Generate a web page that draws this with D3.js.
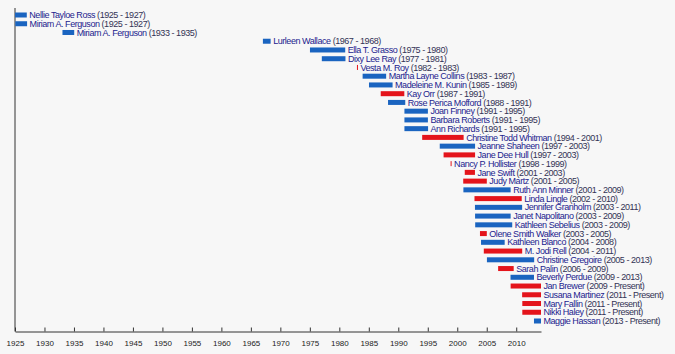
<!DOCTYPE html>
<html>
<head>
<meta charset="utf-8">
<script src="https://cdn.jsdelivr.net/npm/d3@7"></script>
<style>
  body { margin: 0; background: #f7f7f7; }
  svg { display: block; font-family: "Liberation Sans", Arial, sans-serif; }
</style>
</head>
<body>
<script>
var w = 675;
var h = 354;

// Governors, in chart order (top to bottom)
var names = ["Nellie Tayloe Ross", "Miriam A. Ferguson", "Miriam A. Ferguson", "Lurleen Wallace",
    "Ella T. Grasso", "Dixy Lee Ray", "Vesta M. Roy", "Martha Layne Collins", "Madeleine M. Kunin",
    "Kay Orr", "Rose Perica Mofford", "Joan Finney", "Barbara Roberts", "Ann Richards",
    "Christine Todd Whitman", "Jeanne Shaheen", "Jane Dee Hull", "Nancy P. Hollister", "Jane Swift",
    "Judy Martz", "Ruth Ann Minner", "Linda Lingle", "Jennifer Granholm", "Janet Napolitano",
    "Kathleen Sebelius", "Olene Smith Walker", "Kathleen Blanco", "M. Jodi Rell", "Christine Gregoire",
    "Sarah Palin", "Beverly Perdue", "Jan Brewer", "Susana Martinez", "Mary Fallin", "Nikki Haley",
    "Maggie Hassan"];

var terms = ["1925 - 1927", "1925 - 1927", "1933 - 1935", "1967 - 1968", "1975 - 1980", "1977 - 1981",
    "1982 - 1983", "1983 - 1987", "1985 - 1989", "1987 - 1991", "1988 - 1991", "1991 - 1995",
    "1991 - 1995", "1991 - 1995", "1994 - 2001", "1997 - 2003", "1997 - 2003", "1998 - 1999",
    "2001 - 2003", "2001 - 2005", "2001 - 2009", "2002 - 2010", "2003 - 2011", "2003 - 2009",
    "2003 - 2009", "2003 - 2005", "2004 - 2008", "2004 - 2011", "2005 - 2013", "2006 - 2009",
    "2009 - 2013", "2009 - Present", "2011 - Present", "2011 - Present", "2011 - Present",
    "2013 - Present"];

// start / end as decimal years
var starts = [1925.01, 1925.05, 1933.05, 1967.04, 1975.02, 1977.03, 1982.99, 1983.95, 1985.03,
    1987.02, 1988.26, 1991.04, 1991.04, 1991.04, 1994.05, 1997.03, 1997.68, 1998.87, 2001.27,
    2001.01, 2001.04, 2002.92, 2003.0, 2003.02, 2003.04, 2003.85, 2004.03, 2004.5, 2005.03,
    2006.93, 2009.03, 2009.05, 2011.0, 2011.03, 2011.03, 2013.01];

var ends = [1927.0, 1927.05, 1935.04, 1968.35, 1981.0, 1981.04, 1983.02, 1987.94, 1989.03,
    1991.02, 1991.18, 1995.02, 1995.02, 1995.05, 2001.08, 2003.02, 2003.02, 1999.03, 2003.0,
    2005.01, 2009.05, 2010.93, 2011.0, 2009.05, 2009.32, 2005.01, 2008.04, 2011.01, 2013.04,
    2009.57, 2013.01, 2014.2, 2014.2, 2014.2, 2014.2, 2014.2];

var parties = ["D", "D", "D", "D", "D", "D", "R", "D", "D", "R", "D", "D", "D", "D", "R", "D", "R",
    "R", "R", "R", "D", "R", "D", "D", "D", "R", "D", "R", "D", "R", "D", "R", "R", "R", "R", "D"];

var tickYears = d3.range(1925, 2011, 5);

var svg = d3.select("body")
            .append("svg")
            .attr("width", w)
            .attr("height", h);

var x = d3.scaleLinear()
          .domain([1925, 2014.2])
          .range([15, 541]);

var y = d3.scalePoint()
          .domain(d3.range(names.length))
          .range([15, 321]);

var color = d3.scaleOrdinal()
              .domain(["D", "R"])
              .range(["#1a64c0", "#e4141b"]);

// axis
var axis = d3.axisBottom(x)
             .tickValues(tickYears)
             .tickFormat(d3.format("d"))
             .tickSizeInner(-4)
             .tickSizeOuter(0)
             .tickPadding(9);

var gAxis = svg.append("g")
               .attr("transform", "translate(0,331.5)")
               .call(axis);
gAxis.select(".domain").attr("stroke", "#333");
gAxis.selectAll(".tick line").attr("stroke", "#333");
gAxis.selectAll(".tick text")
     .attr("fill", "#222")
     .style("font-size", "8px")
     .style("font-family", "'Liberation Sans', Arial, sans-serif");

// left vertical line
svg.append("line")
   .attr("x1", x(1925)).attr("x2", x(1925))
   .attr("y1", 8).attr("y2", 331.5)
   .attr("stroke", "#333");

var rows = svg.selectAll("g.row")
              .data(names.map(function(n, i) { return i; }))
              .enter()
              .append("g")
              .attr("class", "row");

rows.append("rect")
    .attr("x", function(i) { return x(starts[i]); })
    .attr("y", function(i) { return y(i) - 2.5; })
    .attr("width", function(i) { return Math.max(1, x(ends[i]) - x(starts[i])); })
    .attr("height", 5)
    .attr("fill", function(i) { return color(parties[i]); });

var labels = rows.append("text")
    .attr("x", function(i) { return Math.max(x(ends[i]), x(starts[i]) + 1) + 2.5; })
    .attr("y", function(i) { return y(i); })
    .attr("dy", "0.35em")
    .style("font-size", "9px")
    .style("letter-spacing", "-0.45px");

labels.append("tspan")
      .attr("fill", "#1c1c8e")
      .text(function(i) { return names[i]; });

labels.append("tspan")
      .attr("fill", "#333355")
      .text(function(i) { return " (" + terms[i] + ")"; });
</script>
</body>
</html>
